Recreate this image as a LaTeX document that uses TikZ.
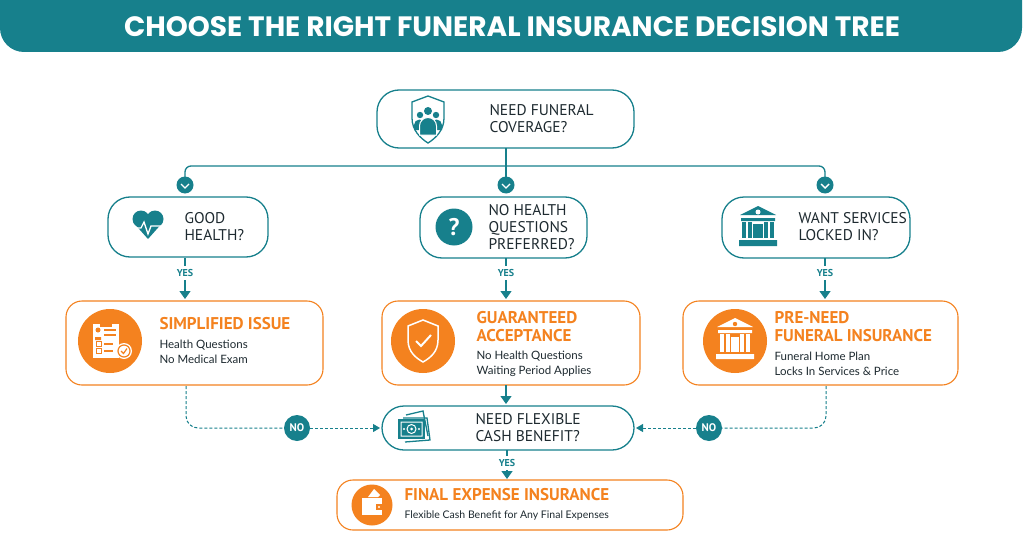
\documentclass[tikz,border=0pt]{standalone}
\usepackage{fontspec}
\setmainfont{PT Sans}
\newfontfamily\bodyf{Lato}
\newfontfamily\titlef{Poppins}
\usetikzlibrary{arrows.meta}
\definecolor{teal}{HTML}{17808C}
\definecolor{org}{HTML}{F4821F}
\definecolor{ink}{HTML}{1E2A30}
\tikzset{
 q/.style={draw=teal,line width=1.3pt,rounded corners=22pt,fill=white},
 r/.style={draw=org,line width=1.1pt,rounded corners=16pt,fill=white},
 qt/.style={anchor=west,align=left,text=ink,font=\fontsize{15.5}{17}\selectfont},
 rt/.style={anchor=west,align=left,text=org,font=\bfseries\fontsize{17}{18}\selectfont},
 bt/.style={anchor=west,align=left,text=ink,font=\bodyf\fontsize{11.5}{15}\selectfont},
 yes/.style={text=teal,font=\bfseries\fontsize{10}{10}\selectfont},
 ln/.style={draw=teal,line width=1.3pt},
 arr/.style={ln,-{Triangle[length=8pt,width=11pt]}},
 dline/.style={draw=teal,line width=1pt,dash pattern=on 3pt off 2pt},
 darr/.style={dline,-{Triangle[length=7pt,width=8pt]}},
 chk/.style={circle,fill=teal,minimum size=17pt,inner sep=0},
 noc/.style={circle,fill=teal,minimum size=26pt,inner sep=0,text=white,font=\bfseries\fontsize{11}{11}\selectfont},
 oc/.style={circle,fill=org,inner sep=0},
}
\begin{document}
\begin{tikzpicture}[x=1pt,y=-1pt]
\useasboundingbox (0,0) rectangle (1024,559);
\fill[white] (0,0) rectangle (1024,559);
% title
\fill[teal,rounded corners=24pt] (0,-40) rectangle (1022,52);
\node[text=white,font=\titlef\bfseries\fontsize{28}{28}\selectfont] (title) at (512,27) {CHOOSE THE RIGHT FUNERAL INSURANCE DECISION TREE};
% top node
\draw[q] (377,90) rectangle (634,148);
\coordinate (top) at (506,148);
\node[qt] (topt) at (486,119) {NEED FUNERAL\\COVERAGE?};
\draw[teal,line width=1.3pt] (412,102) -- (428,96) -- (444,102) -- (444,118) .. controls (444,130) and (436,138) .. (428,143) .. controls (420,138) and (412,130) .. (412,118) -- cycle;
\fill[teal] (428,111) circle (4) (420,115) circle (3.2) (436,115) circle (3.2);
\fill[teal] (414,130) -- (414,125) arc[start angle=180,end angle=360,radius=5.5] -- (425,130) -- cycle (431,130) -- (431,125) arc[start angle=180,end angle=360,radius=5.5] -- (442,130) -- cycle;
\draw[white,line width=1pt,fill=teal] (419.5,135) -- (419.5,126) arc[start angle=180,end angle=360,radius=8.5] -- (436.5,135) -- cycle;
% branches
\draw[ln,rounded corners=6pt] (185,178) |- (825,166) -- (825,178);
\draw[ln] (top) -- (506,178);
\foreach \x/\n in {185/c1,506/c2,825/c3}{
 \node[chk] (\n) at (\x,185) {};
 \draw[white,line width=1.4pt] (\x-4,184) -- (\x,188) -- (\x+4,184);
}
% decision nodes
\draw[q] (108,197) rectangle (268,257);
\node[qt] (g) at (181,227) {GOOD\\HEALTH?};
\fill[teal] (141,219) circle (8.5) (155,219) circle (8.5);
\fill[teal] (133.3,222.5) -- (162.7,222.5) -- (148,239) -- cycle;
\draw[white,line width=1.3pt] (130,228) -- (141,228) -- (144,222) -- (148,234) -- (151,226) -- (166,226);
\draw[q] (420,197) rectangle (587,258);
\node[qt] (nh) at (485,227) {NO HEALTH\\QUESTIONS\\PREFERRED?};
\node[circle,fill=teal,minimum size=37pt,text=white,font=\bfseries\fontsize{24}{24}\selectfont] (qm) at (454,227) {?};
\draw[q] (722,197) rectangle (910,258);
\node[qt] (ws) at (795,227) {WANT SERVICES\\LOCKED IN?};
\fill[teal] (740,215) -- (758,206) -- (776,215) -- cycle (739,240) rectangle (777,246) (741,218) rectangle (775,221);
\foreach \x in {744,750,766,772}{\fill[teal] (\x-1.6,222) rectangle (\x+1.6,238);}
\fill[teal] (753,224) rectangle (763,238);
\fill[white] (758,212) circle (2.5);
% yes arrows
\foreach \x/\n in {185/y1,506/y2,825/y3}{
 \draw[ln] (\x,258) -- (\x,266);
 \node[yes] (\n) at (\x,273) {YES};
 \draw[arr] (\x,280) -- (\x,299);
}
% result nodes
\draw[r] (66,301) rectangle (323,385);
\node[oc,minimum size=64pt] (i1) at (110,341) {};
\begin{scope}[xshift=-33pt]
\fill[white] (126,324) rectangle (152,358);
\fill[org] (133,320) rectangle (145,327);
\fill[org] (131,330) circle (2.5) (128,337) rectangle (134,340);
\foreach \y in {330,335}{\fill[org] (137,\y-1) rectangle (149,\y+1);}
\foreach \y in {344,351}{\draw[org,line width=1pt] (129,\y-3) rectangle (134,\y+2); \fill[org] (137,\y-1) rectangle (146,\y+0.5);}
\fill[white] (157,351) circle (8); \draw[org,line width=1.2pt] (157,351) circle (6) (154,351) -- (156.5,353.5) -- (160,348.5);
\end{scope}
\node[rt] (si) at (156,324) {SIMPLIFIED ISSUE};
\node[bt] (sit) at (156,352) {Health Questions\\No Medical Exam};
\draw[r] (382,301) rectangle (640,385);
\node[oc,minimum size=64pt] (i2) at (423,341) {};
\draw[white,line width=1.5pt] (408,326) -- (423,320) -- (438,326) -- (438,340) .. controls (438,352) and (430,358) .. (423,362) .. controls (416,358) and (408,352) .. (408,340) -- cycle;
\draw[white,line width=2pt] (416,341) -- (421,346) -- (431,335);
\node[rt] (ga) at (473,327) {GUARANTEED\\ACCEPTANCE};
\node[bt] (gat) at (473,364) {No Health Questions\\Waiting Period Applies};
\draw[r] (683,301) rectangle (958,385);
\node[oc,minimum size=64pt] (i3) at (735,341) {};
\fill[white] (717,327) -- (735,318) -- (753,327) -- cycle (716,354) rectangle (754,359) (718,330) rectangle (752,333);
\foreach \x in {722,728,742,748}{\fill[white] (\x-1.6,334) rectangle (\x+1.6,352);}
\fill[white] (731,337) rectangle (739,352);
\fill[org] (735,324) circle (2.2);
\node[rt] (pn) at (771,327) {PRE-NEED\\FUNERAL INSURANCE};
\node[bt] (pnt) at (771,364) {Funeral Home Plan\\Locks In Services \& Price};
% flexible
\draw[arr] (506,385) -- (506,404);
\draw[q] (382,406) rectangle (634,450);
\node[qt] (fx) at (472,428) {NEED FLEXIBLE\\CASH BENEFIT?};
\draw[teal,line width=1.3pt] (406,415) -- (423,411) -- (428,436);
\draw[teal,line width=1.3pt] (403,418) -- (427,418) -- (430,440) -- (405,442);
\fill[teal] (398,419) rectangle (425,439);
\draw[white,line width=1pt] (411.5,429) circle (4.5) (401,422) rectangle (422,436);
\fill[white] (404,429) circle (1.2) (419,429) circle (1.2) (411.5,429) circle (1.5);
% NO dashes
\node[noc] (no1) at (297,428) {NO};
\node[noc] (no2) at (709,428) {NO};
\draw[dline,rounded corners=12pt] (186,386) |- (no1);
\draw[darr] (no1) -- (380,428);
\draw[dline,rounded corners=12pt] (826,386) |- (no2);
\draw[darr] (no2) -- (636,428);
% yes final
\draw[ln] (507,450) -- (507,456);
\node[yes] (y4) at (507,463) {YES};
\draw[arr] (507,470) -- (507,479);
\draw[r] (337,480) rectangle (683,530);
\node[oc,minimum size=41pt] (i4) at (372,505) {};
\fill[white] (362,498) rectangle (382,515);
\fill[white] (368,497) -- (374,489) -- (380,495) -- (378,497) -- cycle;
\fill[org] (376,504) rectangle (383,510); \fill[white] (379,507) circle (1.2);
\node[rt] (fe) at (401,495) {FINAL EXPENSE INSURANCE};
\node[bt,font=\bodyf\fontsize{10.5}{12}\selectfont] (fet) at (401,516) {Flexible Cash Benefit for Any Final Expenses};
\end{tikzpicture}
\end{document}
